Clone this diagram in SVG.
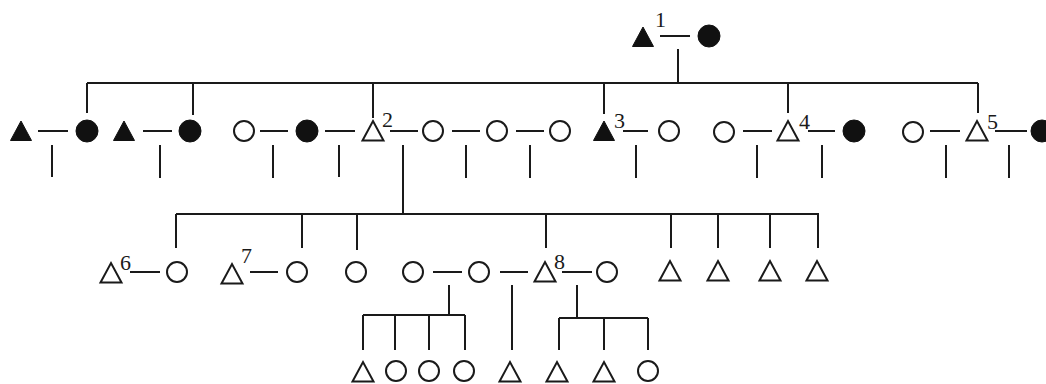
<svg xmlns="http://www.w3.org/2000/svg" xmlns:xlink="http://www.w3.org/1999/xlink" width="1046" height="384" viewBox="0 0 1046 384">
<style>
.bg{fill:#ffffff}
.open{fill:#ffffff;stroke:#1a1a1a;stroke-width:2}
.filled{fill:#111111;stroke:#111111;stroke-width:1}
.ln{stroke:#1a1a1a;stroke-width:2;fill:none}
.lbl{font-family:"Liberation Serif",serif;font-size:22px;fill:#1a1a1a}
</style>
<defs>
<polygon id="tri" points="-10.5,9.5 10.5,9.5 0,-10"/>
<circle id="cir" cx="0" cy="0" r="10"/>
<circle id="cirF" cx="0" cy="0" r="11"/>
</defs>
<rect class="bg" x="0" y="0" width="1046" height="384"/>

<g id="connectors" class="ln">
<line x1="660" y1="36" x2="690" y2="36"/>
<line x1="678" y1="49" x2="678" y2="83"/>
<line x1="87" y1="83" x2="978" y2="83"/>
<line x1="87" y1="83" x2="87" y2="113"/>
<line x1="193" y1="83" x2="193" y2="115"/>
<line x1="373" y1="83" x2="373" y2="118"/>
<line x1="604" y1="83" x2="604" y2="114"/>
<line x1="788" y1="83" x2="788" y2="113"/>
<line x1="978" y1="83" x2="978" y2="113"/>
<line x1="38" y1="131" x2="68" y2="131"/>
<line x1="52" y1="145" x2="52" y2="177"/>
<line x1="143" y1="131" x2="172" y2="131"/>
<line x1="160" y1="145" x2="160" y2="178"/>
<line x1="260" y1="131" x2="288" y2="131"/>
<line x1="273" y1="145" x2="273" y2="178"/>
<line x1="325" y1="131" x2="355" y2="131"/>
<line x1="339" y1="145" x2="339" y2="177"/>
<line x1="390" y1="131" x2="418" y2="131"/>
<line x1="403" y1="145" x2="403" y2="214"/>
<line x1="452" y1="131" x2="480" y2="131"/>
<line x1="466" y1="145" x2="466" y2="178"/>
<line x1="516" y1="131" x2="544" y2="131"/>
<line x1="530" y1="145" x2="530" y2="178"/>
<line x1="623" y1="131" x2="648" y2="131"/>
<line x1="636" y1="145" x2="636" y2="178"/>
<line x1="743" y1="131" x2="772" y2="131"/>
<line x1="757" y1="145" x2="757" y2="178"/>
<line x1="808" y1="131" x2="835" y2="131"/>
<line x1="822" y1="145" x2="822" y2="178"/>
<line x1="930" y1="131" x2="960" y2="131"/>
<line x1="946" y1="145" x2="946" y2="178"/>
<line x1="995" y1="131" x2="1027" y2="131"/>
<line x1="1009" y1="145" x2="1009" y2="178"/>
<line x1="176" y1="214" x2="819" y2="214"/>
<line x1="176" y1="214" x2="176" y2="248"/>
<line x1="302" y1="214" x2="302" y2="248"/>
<line x1="357" y1="214" x2="357" y2="250"/>
<line x1="546" y1="214" x2="546" y2="248"/>
<line x1="671" y1="214" x2="671" y2="248"/>
<line x1="718" y1="214" x2="718" y2="248"/>
<line x1="770" y1="214" x2="770" y2="248"/>
<line x1="818" y1="214" x2="818" y2="248"/>
<line x1="130" y1="272" x2="160" y2="272"/>
<line x1="250" y1="272" x2="278" y2="272"/>
<line x1="433" y1="272" x2="462" y2="272"/>
<line x1="449" y1="285" x2="449" y2="315"/>
<line x1="500" y1="272" x2="528" y2="272"/>
<line x1="512" y1="285" x2="512" y2="350"/>
<line x1="562" y1="272" x2="592" y2="272"/>
<line x1="577" y1="285" x2="577" y2="318"/>
<line x1="363" y1="315" x2="465" y2="315"/>
<line x1="363" y1="315" x2="363" y2="350"/>
<line x1="395" y1="315" x2="395" y2="350"/>
<line x1="429" y1="315" x2="429" y2="350"/>
<line x1="465" y1="315" x2="465" y2="350"/>
<line x1="559" y1="318" x2="648" y2="318"/>
<line x1="559" y1="318" x2="559" y2="350"/>
<line x1="604" y1="318" x2="604" y2="350"/>
<line x1="648" y1="318" x2="648" y2="350"/>
</g>

<g id="n1"><use href="#tri" class="filled" x="643" y="37"/><text class="lbl" x="655" y="27">1</text></g>
<g id="n1w"><use href="#cirF" class="filled" x="709" y="36"/></g>

<g id="r1a"><use href="#tri" class="filled" x="21" y="131"/></g>
<g id="r1b"><use href="#cirF" class="filled" x="87" y="131"/></g>
<g id="r1c"><use href="#tri" class="filled" x="124" y="131"/></g>
<g id="r1d"><use href="#cirF" class="filled" x="190" y="131"/></g>
<g id="r1e"><use href="#cir" class="open" x="244" y="131"/></g>
<g id="r1f"><use href="#cirF" class="filled" x="307" y="131"/></g>
<g id="n2"><use href="#tri" class="open" x="373" y="131"/><text class="lbl" x="382" y="127">2</text></g>
<g id="r1g"><use href="#cir" class="open" x="433" y="131"/></g>
<g id="r1h"><use href="#cir" class="open" x="497" y="131"/></g>
<g id="r1i"><use href="#cir" class="open" x="560" y="131"/></g>
<g id="n3"><use href="#tri" class="filled" x="604" y="131"/><text class="lbl" x="614" y="128">3</text></g>
<g id="r1j"><use href="#cir" class="open" x="669" y="131"/></g>
<g id="r1k"><use href="#cir" class="open" x="724" y="132"/></g>
<g id="n4"><use href="#tri" class="open" x="788" y="131"/><text class="lbl" x="799" y="129">4</text></g>
<g id="r1l"><use href="#cirF" class="filled" x="854" y="131"/></g>
<g id="r1m"><use href="#cir" class="open" x="913" y="132"/></g>
<g id="n5"><use href="#tri" class="open" x="977" y="131"/><text class="lbl" x="987" y="129">5</text></g>
<g id="r1n"><use href="#cirF" class="filled" x="1042" y="131"/></g>

<g id="n6"><use href="#tri" class="open" x="111" y="273"/><text class="lbl" x="120" y="270">6</text></g>
<g id="r2a"><use href="#cir" class="open" x="177" y="272"/></g>
<g id="n7"><use href="#tri" class="open" x="232" y="274"/><text class="lbl" x="241" y="263">7</text></g>
<g id="r2b"><use href="#cir" class="open" x="297" y="272"/></g>
<g id="r2c"><use href="#cir" class="open" x="356" y="272"/></g>
<g id="r2d"><use href="#cir" class="open" x="413" y="272"/></g>
<g id="r2e"><use href="#cir" class="open" x="479" y="272"/></g>
<g id="n8"><use href="#tri" class="open" x="545" y="272"/><text class="lbl" x="554" y="269">8</text></g>
<g id="r2f"><use href="#cir" class="open" x="607" y="272"/></g>
<g id="r2g"><use href="#tri" class="open" x="670" y="271"/></g>
<g id="r2h"><use href="#tri" class="open" x="718" y="271"/></g>
<g id="r2i"><use href="#tri" class="open" x="770" y="271"/></g>
<g id="r2j"><use href="#tri" class="open" x="817" y="271"/></g>

<g id="r3a"><use href="#tri" class="open" x="363" y="372"/></g>
<g id="r3b"><use href="#cir" class="open" x="396" y="371"/></g>
<g id="r3c"><use href="#cir" class="open" x="429" y="371"/></g>
<g id="r3d"><use href="#cir" class="open" x="464" y="371"/></g>
<g id="r3e"><use href="#tri" class="open" x="510" y="372"/></g>
<g id="r3f"><use href="#tri" class="open" x="557" y="372"/></g>
<g id="r3g"><use href="#tri" class="open" x="604" y="372"/></g>
<g id="r3h"><use href="#cir" class="open" x="648" y="371"/></g>
</svg>
